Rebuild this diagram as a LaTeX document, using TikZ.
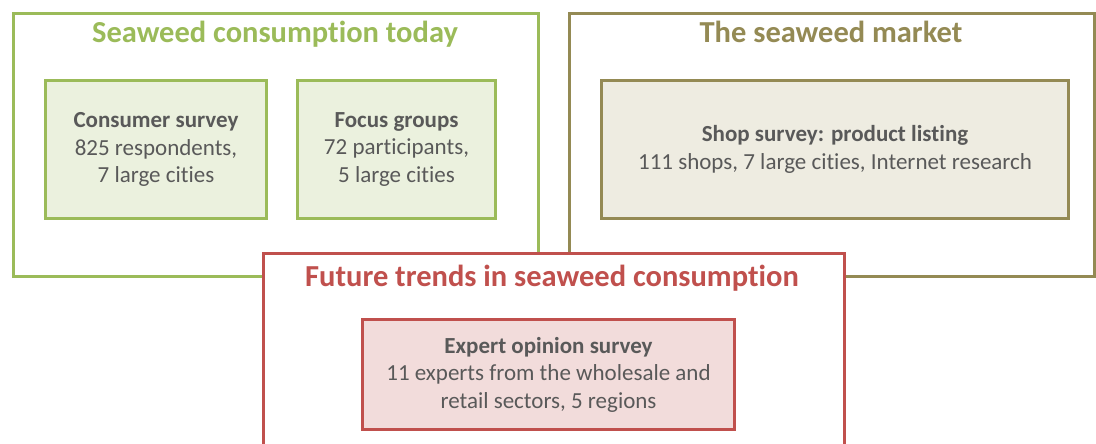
\documentclass[tikz,border=0pt]{standalone}
\usepackage{fontspec}
\setmainfont{Carlito}[Ligatures=NoCommon]
\definecolor{gOut}{HTML}{9BBB59}
\definecolor{gIn}{HTML}{EBF1DE}
\definecolor{bOut}{HTML}{948A54}
\definecolor{bIn}{HTML}{EEECE1}
\definecolor{rOut}{HTML}{C0504D}
\definecolor{rIn}{HTML}{F2DCDB}
\definecolor{txt}{HTML}{595959}
\begin{document}
\begin{tikzpicture}[x=1pt,y=-1pt,
  outerbox/.style={draw=#1,line width=3pt,fill=white,anchor=north west,inner sep=0pt},
  innerbox/.style={draw=#1,line width=3pt,anchor=north west,inner sep=0pt},
  titletext/.style={text=#1,font=\fontsize{30.5}{34}\selectfont\bfseries,anchor=center},
  bodytext/.style={text=txt,font=\fontsize{23}{27.5}\selectfont,align=center,anchor=center}]
\useasboundingbox (0,0) rectangle (1096,444);
\clip (0,0) rectangle (1096,444);
% green
\node[outerbox=gOut,minimum width=525pt,minimum height=263pt] (gbox) at (12,12) {};
\node[titletext=gOut] (gtitle) at (275,34) {Seaweed consumption today};
\node[innerbox=gOut,fill=gIn,minimum width=221pt,minimum height=138pt] (cs) at (44,79) {};
\node[bodytext] (cstext) at (cs.center) {\textbf{Consumer survey}\\825 respondents,\\7 large cities};
\node[innerbox=gOut,fill=gIn,minimum width=198pt,minimum height=138pt] (fg) at (296,79) {};
\node[bodytext] (fgtext) at (fg.center) {\textbf{Focus groups}\\72 participants,\\5 large cities};
% brown
\node[outerbox=bOut,minimum width=525pt,minimum height=263pt] (bbox) at (568,12) {};
\node[titletext=bOut] (btitle) at (831,32) {The seaweed market};
\node[innerbox=bOut,fill=bIn,minimum width=467pt,minimum height=138pt] (ss) at (600,79) {};
\node[bodytext] (sstext) at (ss.center) {\textbf{Shop survey: product listing}\\111 shops, 7 large cities, Internet research};
% red
\node[outerbox=rOut,minimum width=581pt,minimum height=220pt] (rbox) at (262,252) {};
\node[titletext=rOut] (rtitle) at (552,278) {Future trends in seaweed consumption};
\node[innerbox=rOut,fill=rIn,minimum width=372pt,minimum height=110pt] (es) at (361,318) {};
\node[bodytext] (estext) at (es.center) {\textbf{Expert opinion survey}\\11 experts from the wholesale and\\retail sectors, 5 regions};
\end{tikzpicture}
\end{document}
